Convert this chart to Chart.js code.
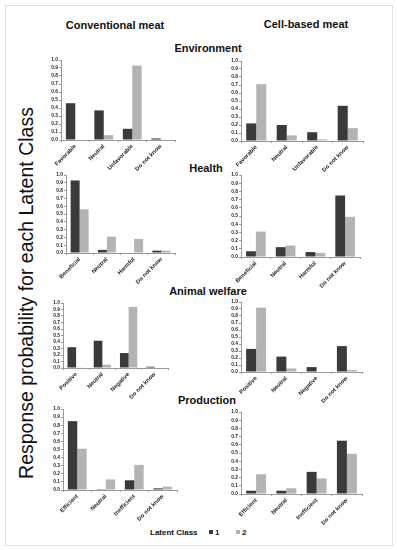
<!doctype html>
<html lang="en">
<head>
<meta charset="utf-8">
<title>Response probability for each Latent Class</title>
<style>
  * { box-sizing: border-box; margin: 0; padding: 0; }
  body { width: 397px; height: 550px; background: #fff; font-family: "Liberation Sans", Arial, sans-serif; color: #111; position: relative; overflow: hidden; }
  .frame { position: absolute; left: 5px; top: 5px; width: 388px; height: 541px; border: 1px solid #e2e2e2; }
  .t { position: absolute; font-weight: 700; white-space: nowrap; transform: translate(-50%, -50%); }
  .col { font-size: 11px; }
  .row { font-size: 11px; }
  .ytitle { position: absolute; left: 27px; top: 293px; font-size: 19.5px; line-height: 1; white-space: nowrap; transform: translate(-50%, -50%) rotate(-90deg); }
  .box { position: absolute; }
  .leg { position: absolute; top: 528px; font-size: 8px; font-weight: 700; white-space: nowrap; }
  .sw { display: inline-block; width: 4px; height: 4px; margin-right: 2px; vertical-align: 1px; }
</style>
</head>
<body>
<div class="frame"></div>
<div class="t col" style="left:115px;top:25px">Conventional meat</div>
<div class="t col" style="left:306px;top:24px">Cell-based meat</div>
<div class="t row" style="left:208px;top:48px">Environment</div>
<div class="t row" style="left:206px;top:168px">Health</div>
<div class="t row" style="left:208px;top:291px">Animal welfare</div>
<div class="t row" style="left:207px;top:400px">Production</div>
<div class="ytitle">Response probability for each Latent Class</div>
<div class="leg" style="left:150px">Latent Class</div>
<div class="leg" style="left:209px"><span class="sw" style="background:#3a3a3a"></span>1</div>
<div class="leg" style="left:236px"><span class="sw" style="background:#b3b3b3"></span>2</div>

<script src="https://cdn.jsdelivr.net/npm/chart.js@4.4.1/dist/chart.umd.min.js"></script>
<script>
  // categories per attribute
  const envCats = ["Favorable", "Neutral", "Unfavorable", "Do not know"];
  const healthCats = ["Beneficial", "Neutral", "Harmful", "Do not know"];
  const welfareCats = ["Positive", "Neutral", "Negative", "Do not know"];
  const prodCats = ["Efficient", "Neutral", "Inefficient", "Do not know"];

  // latent class 1 / 2, conventional meat
  const envConv1 = [0.46, 0.37, 0.14, 0.02];
  const envConv2 = [0.00, 0.06, 0.93, 0.00];
  const healthConv1 = [0.93, 0.04, 0.00, 0.03];
  const healthConv2 = [0.56, 0.21, 0.18, 0.03];
  const welfareConv1 = [0.32, 0.42, 0.23, 0.02];
  const welfareConv2 = [0.01, 0.05, 0.94, 0.00];
  const prodConv1 = [0.85, 0.01, 0.12, 0.02];
  const prodConv2 = [0.51, 0.13, 0.31, 0.04];

  // latent class 1 / 2, cell-based meat
  const envCell1 = [0.22, 0.20, 0.11, 0.44];
  const envCell2 = [0.71, 0.07, 0.02, 0.16];
  const healthCell1 = [0.07, 0.12, 0.06, 0.75];
  const healthCell2 = [0.31, 0.14, 0.05, 0.49];
  const welfareCell1 = [0.33, 0.22, 0.07, 0.37];
  const welfareCell2 = [0.92, 0.05, 0.00, 0.03];
  const prodCell1 = [0.04, 0.04, 0.27, 0.65];
  const prodCell2 = [0.24, 0.07, 0.19, 0.49];

  const yMin = 0, yMax = 1, yStep = 0.1;

  const dark = "#3a3a3a", light = "#b3b3b3", axis = "#9a9a9a";
  const YW = 18, PT = 4, XH = 34;

  // plot area: left, right, top (1.0), bottom (0.0)
  function panel(cats, c1, c2, L, R, T, B) {
    const box = document.createElement("div");
    box.className = "box";
    box.style.left = (L - YW) + "px";
    box.style.top = (T - PT) + "px";
    box.style.width = (R - L + YW + 2) + "px";
    box.style.height = (B - T + PT + XH) + "px";
    const cv = document.createElement("canvas");
    box.appendChild(cv);
    document.body.appendChild(box);
    new Chart(cv, {
      type: "bar",
      data: { labels: cats, datasets: [
        { label: "1", data: c1, backgroundColor: dark, categoryPercentage: 0.66, barPercentage: 1 },
        { label: "2", data: c2, backgroundColor: light, categoryPercentage: 0.66, barPercentage: 1 } ] },
      options: {
        responsive: true, maintainAspectRatio: false, animation: false,
        layout: { padding: { top: PT, right: 2, left: 0, bottom: 0 } },
        plugins: { legend: { display: false }, tooltip: { enabled: false } },
        scales: {
          x: {
            grid: { drawOnChartArea: false, color: axis, tickLength: 2 },
            border: { color: axis },
            ticks: { minRotation: 45, maxRotation: 45, autoSkip: false, padding: 1, color: "#222",
              font: { size: 5.8, weight: "bold", family: "Liberation Sans" } },
            afterFit: (s) => { s.height = XH; }
          },
          y: {
            min: yMin, max: yMax,
            grid: { drawOnChartArea: false, color: axis, tickLength: 2 },
            border: { color: axis },
            ticks: { stepSize: yStep, autoSkip: false, padding: 1, color: "#222", callback: (v) => v.toFixed(1),
              font: { size: 4.8, weight: "bold", family: "Liberation Sans" } },
            afterFit: (s) => { s.width = YW; }
          }
        }
      }
    });
  }

  panel(envCats, envConv1, envConv2, 61, 175, 60, 140);
  panel(envCats, envCell1, envCell2, 241, 363, 61, 141);
  panel(healthCats, healthConv1, healthConv2, 66, 175, 175, 253);
  panel(healthCats, healthCell1, healthCell2, 241, 360, 175, 257);
  panel(welfareCats, welfareConv1, welfareConv2, 63, 168, 303, 368);
  panel(welfareCats, welfareCell1, welfareCell2, 241, 362, 302, 372);
  panel(prodCats, prodConv1, prodConv2, 63, 177, 409, 490);
  panel(prodCats, prodCell1, prodCell2, 241, 362, 412, 494);
</script>
</body>
</html>
